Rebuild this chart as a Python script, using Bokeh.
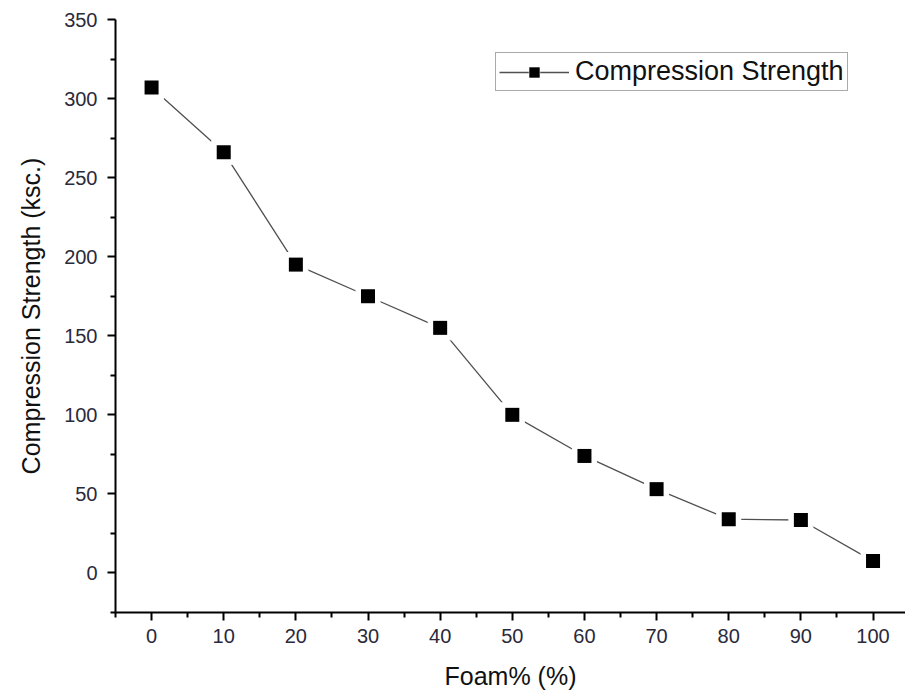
from bokeh.plotting import figure
from bokeh.models import Range1d, Legend, LegendItem, ColumnDataSource, FixedTicker
from bokeh.embed import file_html
from bokeh.resources import INLINE

foam = [0, 10, 20, 30, 40, 50, 60, 70, 80, 90, 100]
strength = [307, 266, 195, 175, 155, 100, 74, 53, 34, 33.5, 7.5]
x_ticks = [0, 10, 20, 30, 40, 50, 60, 70, 80, 90, 100]
y_ticks = [0, 50, 100, 150, 200, 250, 300, 350]

src = ColumnDataSource(dict(x=foam, y=strength))

FONT = "Liberation Sans"

p = figure(width=905, height=692, output_backend="svg", toolbar_location=None,
           x_range=Range1d(-5, 104.5), y_range=Range1d(-25, 350),
           min_border_left=115, min_border_right=0, min_border_top=19, min_border_bottom=80)
p.outline_line_color = None
p.xgrid.visible = False
p.ygrid.visible = False
p.background_fill_color = "white"
p.border_fill_color = "white"

r_line = p.line("x", "y", source=src, line_color="#505050", line_width=1.3)
r_white = p.scatter("x", "y", source=src, marker="square", size=24, fill_color="white", line_color="white")
r_sq = p.scatter("x", "y", source=src, marker="square", size=14, fill_color="black", line_color=None)

for ax in (p.xaxis[0], p.yaxis[0]):
    ax.axis_line_width = 2
    ax.axis_line_color = "black"
    ax.major_tick_line_width = 2
    ax.minor_tick_line_width = 2
    ax.major_tick_in = 0
    ax.major_tick_out = 8
    ax.minor_tick_in = 0
    ax.minor_tick_out = 5
    ax.major_label_text_font = FONT
    ax.major_label_text_font_size = "20px"
    ax.major_label_text_color = "#2a2a3a"
    ax.axis_label_text_font = FONT
    ax.axis_label_text_font_size = "25px"
    ax.axis_label_text_font_style = "normal"
    ax.axis_label_text_color = "#111111"

p.xaxis[0].ticker = FixedTicker(ticks=x_ticks, minor_ticks=[v + 5 for v in [-10] + x_ticks])
p.yaxis[0].ticker = FixedTicker(ticks=y_ticks, minor_ticks=[v + 25 for v in [-50] + y_ticks])
p.xaxis[0].axis_label = "Foam% (%)"
p.yaxis[0].axis_label = "Compression Strength (ksc.)"
p.xaxis[0].major_label_standoff = 8
p.yaxis[0].major_label_standoff = 10
p.xaxis[0].axis_label_standoff = 16
p.yaxis[0].axis_label_standoff = 16

legend = Legend(items=[LegendItem(label="Compression Strength", renderers=[r_line, r_white, r_sq])],
                location=(380, 521))
legend.label_text_font = FONT
legend.label_text_font_size = "27px"
legend.label_text_color = "#111111"
legend.glyph_width = 70
legend.glyph_height = 26
legend.label_standoff = 6
legend.padding = 3
legend.margin = 0
legend.border_line_color = "#555555"
legend.border_line_width = 1.5
legend.background_fill_alpha = 1
p.add_layout(legend, "center")

open("out.html", "w").write(file_html(p, INLINE))
